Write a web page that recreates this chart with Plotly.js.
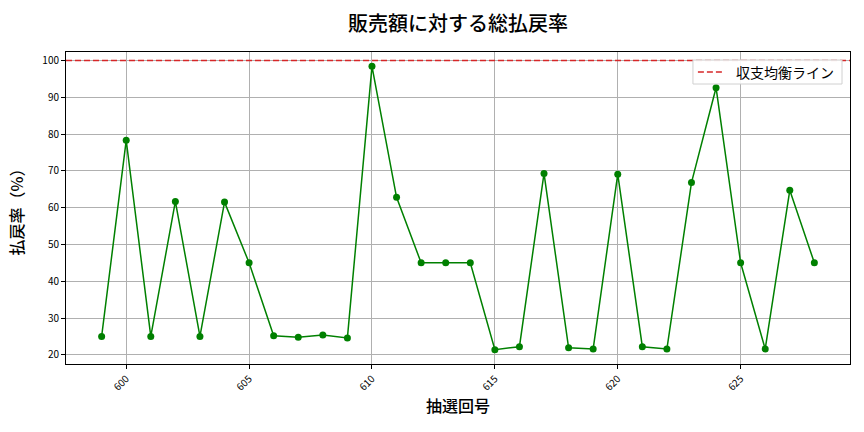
<!DOCTYPE html>
<html>
<head>
<meta charset="utf-8">
<script src="https://cdn.plot.ly/plotly-3.0.1.min.js"></script>
<style>
  body { margin: 0; background: #fff; }
  #chart { width: 864px; height: 432px; }
</style>
</head>
<body>
<div id="chart"></div>
<script>
// 抽選回号 and 払戻率 (%)
var rounds = [599, 600, 601, 602, 603, 604, 605, 606, 607, 608,
              609, 610, 611, 612, 613, 614, 615, 616, 617, 618,
              619, 620, 621, 622, 623, 624, 625, 626, 627, 628];
var payout = [25.0, 78.3, 25.0, 61.7, 25.0, 61.5, 45.0, 25.2, 24.8, 25.4,
              24.6, 98.4, 62.8, 45.0, 45.0, 45.0, 21.4, 22.2, 69.3, 21.9,
              21.6, 69.1, 22.2, 21.6, 66.8, 92.6, 45.0, 21.6, 64.7, 45.0];
var breakEven = 100;
var breakEvenName = '収支均衡ライン';
var xTicks = [600, 605, 610, 615, 620, 625];
var yTicks = [20, 30, 40, 50, 60, 70, 80, 90, 100];

var font = '"Noto Sans CJK JP", "Noto Sans", sans-serif';
var red = '#d62728';

var data = [
  {
    type: 'scatter',
    mode: 'lines+markers',
    x: rounds,
    y: payout,
    line: {color: '#008000', width: 1.5},
    marker: {color: '#008000', size: 7},
    showlegend: false,
    hoverinfo: 'x+y'
  }
];

// plotly's legend box is taller than matplotlib's and hid the 624 point,
// so the legend is drawn by hand (box + dash sample + label)
var layout = {
  width: 864,
  height: 432,
  margin: {l: 66, r: 14, t: 52, b: 68},
  paper_bgcolor: '#ffffff',
  plot_bgcolor: '#ffffff',
  font: {family: font, color: '#000000'},
  showlegend: false,
  title: {
    text: '販売額に対する総払戻率',
    font: {family: font, size: 20, color: '#000000', weight: 500},
    x: 0.53, xanchor: 'center',
    y: 0.945, yanchor: 'middle'
  },
  xaxis: {
    title: {text: '抽選回号', font: {family: font, size: 16, weight: 500}, standoff: 8},
    range: [597.55, 629.45],
    tickvals: xTicks,
    tickangle: -45,
    tickfont: {family: font, size: 10},
    ticks: 'outside', ticklen: 4, tickcolor: '#000',
    showgrid: true, gridcolor: '#b0b0b0', gridwidth: 0.8,
    showline: true, linecolor: '#000', linewidth: 1, mirror: true,
    zeroline: false
  },
  yaxis: {
    title: {text: '払戻率（%）', font: {family: font, size: 16, weight: 500}, standoff: 14},
    range: [17.5, 102.3],
    tickvals: yTicks,
    tickfont: {family: font, size: 10},
    ticks: 'outside', ticklen: 4, tickcolor: '#000',
    showgrid: true, gridcolor: '#b0b0b0', gridwidth: 0.8,
    showline: true, linecolor: '#000', linewidth: 1, mirror: true,
    zeroline: false
  },
  shapes: [
    {
      type: 'line', xref: 'paper', yref: 'y',
      x0: 0, x1: 1, y0: breakEven, y1: breakEven,
      line: {color: red, width: 1.5, dash: '6px,3px'}
    },
    {
      type: 'rect', xref: 'paper', yref: 'paper',
      x0: 0.7997, x1: 0.9898, y0: 0.8974, y1: 0.9744,
      fillcolor: 'rgba(255,255,255,0.9)',
      line: {color: '#d0d0d0', width: 1}
    },
    {
      type: 'line', xref: 'paper', yref: 'paper',
      x0: 0.806, x1: 0.839, y0: 0.936, y1: 0.936,
      line: {color: red, width: 1.5, dash: '6px,3px'}
    }
  ],
  annotations: [
    {
      text: breakEvenName,
      xref: 'paper', yref: 'paper',
      x: 0.982, xanchor: 'right',
      y: 0.936, yanchor: 'middle',
      showarrow: false,
      font: {family: font, size: 14, color: '#000'}
    }
  ]
};

Plotly.newPlot('chart', data, layout, {displayModeBar: false});
</script>
</body>
</html>
